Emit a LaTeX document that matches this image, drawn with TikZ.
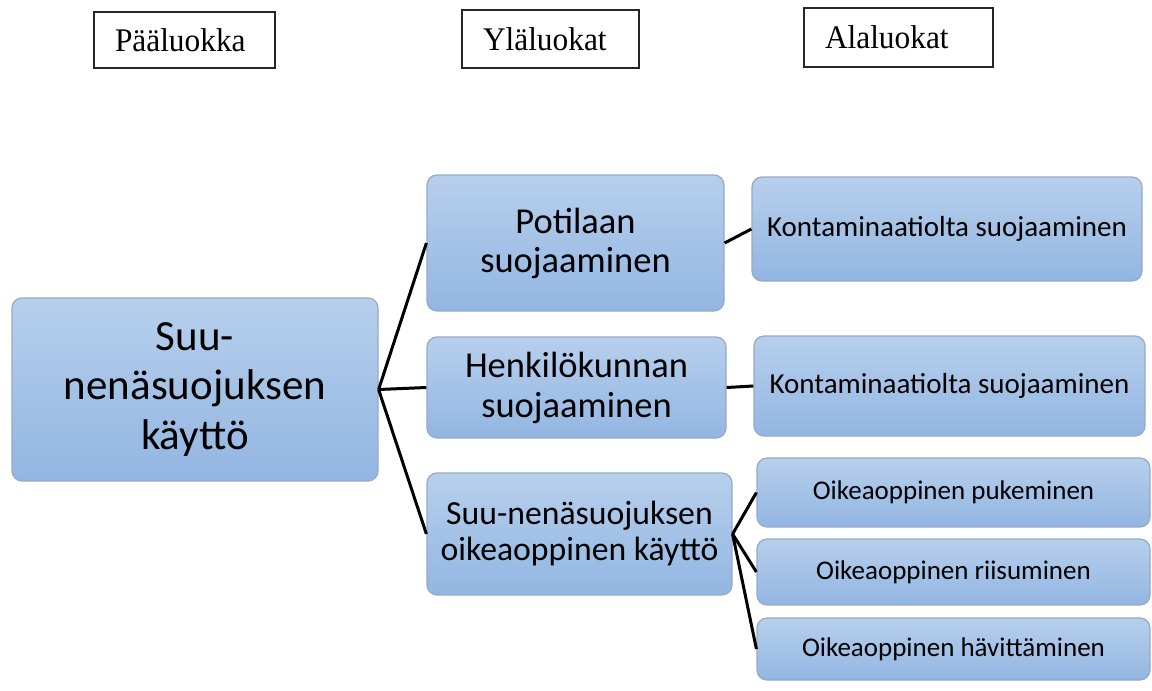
\documentclass[tikz,border=0pt]{standalone}
\usepackage{fontspec}
\setmainfont{Carlito}
\newfontfamily\timesfont[FakeStretch=0.95]{Liberation Serif}
\usepackage{tikz}
\definecolor{boiteHaut}{RGB}{183,207,236}
\definecolor{boiteBas}{RGB}{146,182,226}
\definecolor{boiteBord}{RGB}{150,170,198}

\begin{document}
\begin{tikzpicture}[x=1pt,y=-1pt,
    boite/.style={rounded corners=10pt, draw=boiteBord, line width=1.2pt,
        top color=boiteHaut, bottom color=boiteBas, align=center, inner sep=0pt},
    titre/.style={draw=black!85, line width=1.3pt, inner xsep=21pt, inner ysep=0pt,
        align=left, font=\timesfont\fontsize{33}{38}\selectfont},
    lien/.style={line width=3pt}]
    \useasboundingbox (0,0) rectangle (1152,691);

    % Titres des colonnes
    \node[titre, text width=139pt, minimum height=56pt] (paa) at (184.5,40) {Pääluokka};
    \node[titre, text width=135pt, minimum height=58pt] (yla) at (550.5,39) {Yläluokat};
    \node[titre, text width=147pt, minimum height=59pt] (ala) at (898.5,37.5) {Alaluokat};

    % Pääluokka
    \node[boite, minimum width=366pt, minimum height=183pt,
        font=\fontsize{43}{49.5}\selectfont] (kaytto) at (195,389.5)
        {Suu-\\nenäsuojuksen\\käyttö};

    % Yläluokat
    \node[boite, minimum width=297pt, minimum height=136pt,
        font=\fontsize{36.5}{39}\selectfont] (potilas) at (575.5,243)
        {Potilaan\\suojaaminen};
    \node[boite, minimum width=299pt, minimum height=101pt,
        font=\fontsize{36.5}{40}\selectfont] (henkilo) at (576.5,387.5)
        {Henkilökunnan\\suojaaminen};
    \node[boite, minimum width=305pt, minimum height=122pt,
        font=\fontsize{33.7}{36}\selectfont] (oikea) at (579.5,534)
        {Suu-nenäsuojuksen\\oikeaoppinen käyttö};

    % Alaluokat
    \node[boite, minimum width=390pt, minimum height=104pt,
        font=\fontsize{29}{34}\selectfont] (kont1) at (947,229) {Kontaminaatiolta suojaaminen};
    \node[boite, minimum width=391pt, minimum height=100pt,
        font=\fontsize{29}{34}\selectfont] (kont2) at (949.5,386) {Kontaminaatiolta suojaaminen};
    \node[boite, minimum width=393pt, minimum height=69pt,
        font=\fontsize{27}{32}\selectfont] (puk) at (953.5,492.5) {Oikeaoppinen pukeminen};
    \node[boite, minimum width=393pt, minimum height=66pt,
        font=\fontsize{27}{32}\selectfont] (riis) at (953.5,572) {Oikeaoppinen riisuminen};
    \node[boite, minimum width=393pt, minimum height=62pt,
        font=\fontsize{27}{32}\selectfont] (hav) at (953.5,649) {Oikeaoppinen hävittäminen};

    % Liens
    \draw[lien] (kaytto.east) -- (potilas.west);
    \draw[lien] (kaytto.east) -- (henkilo.west);
    \draw[lien] (kaytto.east) -- (oikea.west);
    \draw[lien] (potilas.east) -- (kont1.west);
    \draw[lien] (henkilo.east) -- (kont2.west);
    \draw[lien] (oikea.east) -- (puk.west);
    \draw[lien] (oikea.east) -- (riis.west);
    \draw[lien] (oikea.east) -- (hav.west);
\end{tikzpicture}
\end{document}
